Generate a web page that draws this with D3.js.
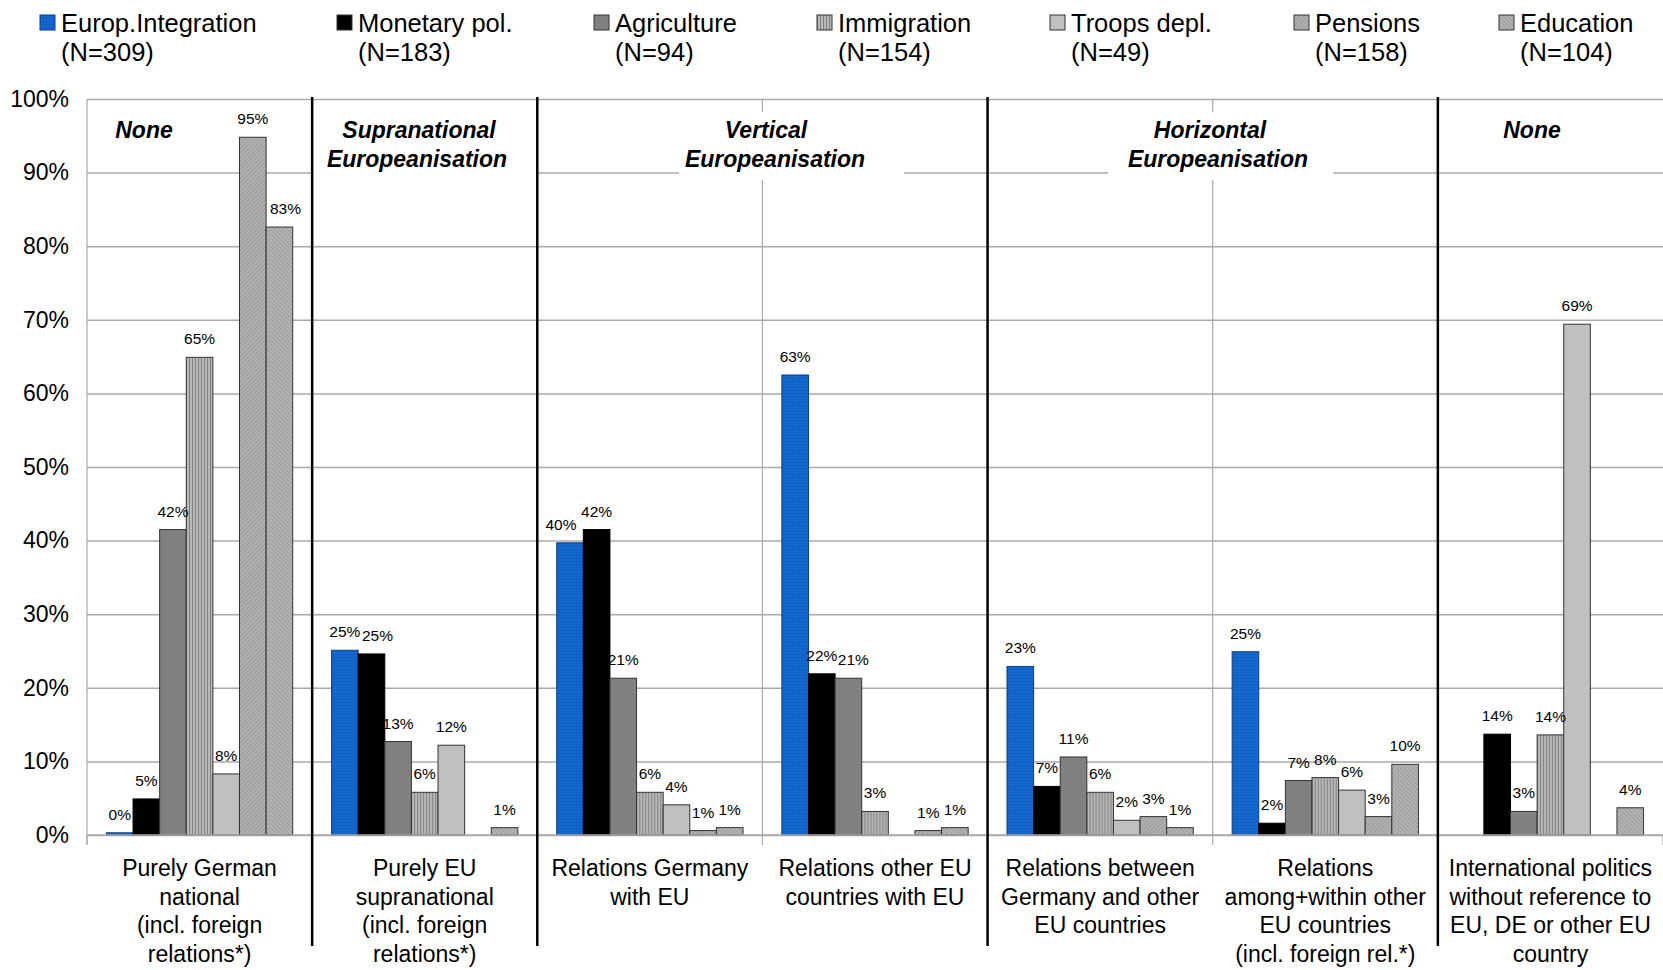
<!DOCTYPE html>
<html><head><meta charset="utf-8">
<script src="https://cdn.jsdelivr.net/npm/d3@7"></script>
<style>
body{margin:0;background:#fff;}
svg{display:block;}
text{font-family:"Liberation Sans",Arial,Helvetica,sans-serif;fill:#000;}
</style>
</head><body>
<svg id="chart" width="1663" height="970"></svg>
<script>
// ---------- DATA ----------
const categories = [
  ["Purely German", "national", "(incl. foreign", "relations*)"],
  ["Purely EU", "supranational", "(incl. foreign", "relations*)"],
  ["Relations Germany", "with EU"],
  ["Relations other EU", "countries with EU"],
  ["Relations between", "Germany and other", "EU countries"],
  ["Relations", "among+within other", "EU countries", "(incl. foreign rel.*)"],
  ["International politics", "without reference to", "EU, DE or other EU", "country"]
];
const seriesNames = ["Europ.Integration", "Monetary pol.", "Agriculture", "Immigration", "Troops depl.", "Pensions", "Education"];
const seriesN = ["(N=309)", "(N=183)", "(N=94)", "(N=154)", "(N=49)", "(N=158)", "(N=104)"];
const europIntegration = [0.3, 25.1, 39.7, 62.5, 22.9, 24.9, null];
const monetaryPol      = [4.9, 24.6, 41.5, 21.9, 6.6, 1.6, 13.7];
const agriculture      = [41.5, 12.7, 21.3, 21.3, 10.6, 7.4, 3.2];
const immigration      = [64.9, 5.8, 5.8, 3.2, 5.8, 7.8, 13.6];
const troopsDepl       = [8.3, 12.2, 4.1, null, 2.0, 6.1, 69.4];
const pensions         = [94.8, null, 0.6, 0.6, 2.5, 2.5, null];
const education        = [82.6, 1.0, 1.0, 1.0, 1.0, 9.6, 3.7];
const yTicks = [0, 10, 20, 30, 40, 50, 60, 70, 80, 90, 100];
const groupTitles = [
  ["None"],
  ["Supranational", "Europeanisation"],
  ["Vertical", "Europeanisation"],
  ["Horizontal", "Europeanisation"],
  ["None"]
];
// ---------- LAYOUT ----------
const L = 87, R = 1663, T = 99, B = 835;
const legendX = [40, 337, 594, 817, 1050, 1294, 1499];
const titleLayout = [
  {x: [144], box: null},
  {x: [419, 417], box: [311, 537]},
  {x: [766, 775], box: [679, 904]},
  {x: [1210, 1218], box: [1108, 1333]},
  {x: [1532], box: null}
];
const dividerIdx = [1, 2, 4, 6];
const thinIdx = [3, 5];
// horizontal label nudges "category-series": px
const labelNudge = {"0-6": 6, "1-1": 6, "2-0": -9, "3-2": 5};

const allSeries = [europIntegration, monetaryPol, agriculture, immigration, troopsDepl, pensions, education];

const svg = d3.select("#chart");
const defs = svg.append("defs");

function pat(id, w, h, draw, attrs) {
  const p = defs.append("pattern").attr("id", id).attr("patternUnits", "userSpaceOnUse")
    .attr("width", w).attr("height", h);
  if (attrs) for (const k in attrs) p.attr(k, attrs[k]);
  draw(p);
}
pat("pBlue", 3, 3, p => {
  p.append("rect").attr("width", 3).attr("height", 3).attr("fill", "#1467cf");
  p.append("rect").attr("x", 0).attr("y", 0).attr("width", 1).attr("height", 1).attr("fill", "#0a4ea6");
});
pat("pImm", 3, 3, p => {
  p.append("rect").attr("width", 3).attr("height", 3).attr("fill", "#b8b8b8");
  p.append("rect").attr("x", 0).attr("width", 1).attr("height", 3).attr("fill", "#808080");
});
pat("pPen", 3, 3, p => {
  p.append("rect").attr("width", 3).attr("height", 3).attr("fill", "#b2b2b2");
  p.append("rect").attr("x", 0).attr("width", 1).attr("height", 3).attr("fill", "#989898");
}, {patternTransform: "rotate(45)"});
pat("pEdu", 3, 3, p => {
  p.append("rect").attr("width", 3).attr("height", 3).attr("fill", "#b4b4b4");
  p.append("rect").attr("x", 0).attr("width", 1).attr("height", 3).attr("fill", "#9a9a9a");
}, {patternTransform: "rotate(-45)"});

const fills = ["url(#pBlue)", "#000000", "#808080", "url(#pImm)", "#c0c0c0", "url(#pPen)", "url(#pEdu)"];
const strokes = ["#0b3f80", "#000000", "#333333", "#333333", "#333333", "#333333", "#333333"];

const x0 = d3.scaleBand().domain(d3.range(categories.length)).range([L, R]).paddingInner(0).paddingOuter(0);
const x1 = d3.scaleBand().domain(d3.range(seriesNames.length)).range([0, x0.bandwidth()]).paddingInner(0).paddingOuter(0.73);
const y = d3.scaleLinear().domain([0, 100]).range([B, T]);
const bx = i => i < categories.length ? x0(i) : R;

// gridlines
const grid = svg.append("g").attr("transform", `translate(${L},0)`)
  .call(d3.axisLeft(y).tickValues(yTicks).tickSize(-(R - L)).tickFormat(""));
grid.select(".domain").remove();
grid.selectAll(".tick line").attr("stroke", "#aaaaaa").attr("stroke-width", 1.5);

// y axis labels
const ya = svg.append("g").attr("transform", `translate(${L},0)`)
  .call(d3.axisLeft(y).tickValues(yTicks).tickFormat(d => d + "%").tickSize(0).tickPadding(18));
ya.select(".domain").remove();
ya.selectAll("text").attr("font-size", 23).attr("font-family", '"Liberation Sans",Arial,sans-serif').attr("fill", "#000");

svg.append("line").attr("x1", L).attr("x2", L).attr("y1", T).attr("y2", B + 9)
  .attr("stroke", "#aaaaaa").attr("stroke-width", 1.2);

svg.append("g").selectAll("line").data(d3.range(categories.length + 1)).join("line")
  .attr("x1", d => bx(d)).attr("x2", d => bx(d))
  .attr("y1", d => thinIdx.includes(d) ? T : B).attr("y2", B + 10)
  .attr("stroke", "#aaaaaa").attr("stroke-width", 1.2);

// title boxes
const tg = svg.append("g");
titleLayout.forEach((t, gi) => {
  if (t.box) tg.append("rect").attr("x", t.box[0]).attr("y", 112).attr("width", t.box[1] - t.box[0]).attr("height", 68).attr("fill", "#fff");
  groupTitles[gi].forEach((line, li) => {
    tg.append("text").attr("x", t.x[li]).attr("y", 138 + li * 28.6)
      .attr("text-anchor", "middle").attr("font-size", 23).attr("font-weight", "bold").attr("font-style", "italic")
      .text(line);
  });
});

// bars
const cg = svg.append("g").selectAll("g").data(d3.range(categories.length)).join("g")
  .attr("transform", d => `translate(${x0(d)},0)`);
cg.each(function(ci) {
  const g = d3.select(this);
  const vals = allSeries.map((s, si) => ({ci, si, v: s[ci]})).filter(d => d.v != null);
  g.selectAll("rect").data(vals).join("rect")
    .attr("x", d => x1(d.si)).attr("width", x1.bandwidth())
    .attr("y", d => y(d.v)).attr("height", d => B - y(d.v))
    .attr("fill", d => fills[d.si]).attr("stroke", d => strokes[d.si]).attr("stroke-width", 1);
  g.selectAll("text").data(vals).join("text")
    .attr("x", d => x1(d.si) + x1.bandwidth() / 2 + (labelNudge[d.ci + "-" + d.si] || 0))
    .attr("y", d => y(d.v) - 13)
    .attr("text-anchor", "middle").attr("font-size", 15.5)
    .text(d => Math.round(d.v) + "%");
});

svg.append("line").attr("x1", L).attr("x2", R).attr("y1", B).attr("y2", B).attr("stroke", "#aaaaaa").attr("stroke-width", 1.5);

// category labels
const lab = svg.append("g").selectAll("text").data(categories).join("text")
  .attr("text-anchor", "middle").attr("font-size", 23);
lab.each(function(lines, i) {
  const t = d3.select(this);
  lines.forEach((ln, li) => {
    t.append("tspan").attr("x", x0(i) + x0.bandwidth() / 2).attr("y", 876 + li * 28.6).text(ln);
  });
});

// dividers
svg.append("g").selectAll("line").data(dividerIdx).join("line")
  .attr("x1", d => bx(d)).attr("x2", d => bx(d)).attr("y1", T - 2).attr("y2", 946)
  .attr("stroke", "#000").attr("stroke-width", 2.5);

// legend
const lg = svg.append("g").selectAll("g").data(seriesNames).join("g")
  .attr("transform", (d, i) => `translate(${legendX[i]},0)`);
lg.append("rect").attr("x", 0).attr("y", 15).attr("width", 15).attr("height", 15)
  .attr("fill", (d, i) => fills[i]).attr("stroke", (d, i) => i === 0 ? "#0b3f80" : "#333").attr("stroke-width", 1);
lg.append("text").attr("x", 21).attr("y", 32).attr("font-size", 25.5).text(d => d);
lg.append("text").attr("x", 21).attr("y", 61).attr("font-size", 25.5).text((d, i) => seriesN[i]);
</script>
</body></html>
